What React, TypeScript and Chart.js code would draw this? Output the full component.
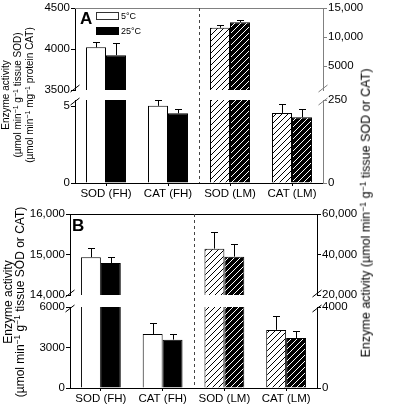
import React, { useEffect, useRef } from "react";
import { Chart, registerables } from "chart.js";

Chart.register(...registerables);

const FONT = "'Liberation Sans', Arial, Helvetica, sans-serif";
Chart.defaults.font.family = FONT;
Chart.defaults.font.size = 11.5;
Chart.defaults.color = "#000";

// ---------- data ----------
const categories = ["SOD (FH)", "CAT (FH)", "SOD (LM)", "CAT (LM)"];
const seriesLabels = ["5°C", "25°C"];

// Panel A (FH values on left axis, LM values on right axis)
const aMean5 = [4020, 5.02, 11600, 211];
const aErr5 = [70, 0.35, 450, 27];
const aMean25 = [3925, 4.53, 12540, 198];
const aErr25 = [146, 0.28, 410, 25];

// Panel B
const bMean5 = [14935, 4000, 42900, 2870];
const bErr5 = [220, 830, 8450, 680];
const bMean25 = [14790, 3580, 38950, 2470];
const bErr25 = [140, 450, 6360, 330];

// broken-axis ranges and tick values
const aLeftUpperRange = [3500, 4500];
const aLeftUpperTicks = [3500, 4000, 4500];
const aLeftLowerRange = [0, 5.4];
const aLeftLowerTicks = [0, 5];
const aRightUpperRange = [900, 15000];
const aRightUpperTicks = [5000, 10000, 15000];
const aRightLowerRange = [0, 250];
const aRightLowerTicks = [0, 250];

const bLeftUpperRange = [14000, 16000];
const bLeftUpperTicks = [14000, 15000, 16000];
const bLeftLowerRange = [0, 6000];
const bLeftLowerTicks = [0, 3000, 6000];
const bRightUpperRange = [20000, 60000];
const bRightUpperTicks = [20000, 40000, 60000];
const bRightLowerRange = [0, 4000];
const bRightLowerTicks = [0, 4000];

// ---------- helpers ----------
type Axis = { range: number[]; ticks: number[] };
type Seg = {
  mean5: number[]; err5: number[]; mean25: number[]; err25: number[];
  left: Axis; right: Axis;
  top: number; bottom: number; l: number; r: number;
  upper: boolean; frame: string; rightColor: string; dashTop?: number;
};

const LW = 40;
const RW = 50;
const XH = 17;

function fmt(v: number) {
  return v >= 10000 ? v.toLocaleString("en-US") : String(v);
}

function hatch(bg: string, fg: string) {
  const c = document.createElement("canvas");
  c.width = 6;
  c.height = 6;
  const g = c.getContext("2d")!;
  g.fillStyle = bg;
  g.fillRect(0, 0, 6, 6);
  g.strokeStyle = fg;
  g.lineWidth = 1;
  g.beginPath();
  g.moveTo(-1, 7); g.lineTo(7, -1);
  g.moveTo(-1, 1); g.lineTo(1, -1);
  g.moveTo(5, 7); g.lineTo(7, 5);
  g.stroke();
  return g.createPattern(c, "repeat")!;
}

function only(arr: number[], keep: number[]) {
  return arr.map((v, i) => (keep.includes(i) ? v : null));
}

function yAxis(ax: Axis, pos: "left" | "right", color: string, width: number) {
  return {
    type: "linear",
    position: pos,
    min: ax.range[0],
    max: ax.range[1],
    stacked: false,
    grid: { drawOnChartArea: false, drawTicks: true, tickLength: 4, color },
    border: { display: true, color, width: 1, z: 1 },
    ticks: { color: "#000", padding: 1, callback: (v: any) => fmt(Number(v)) },
    afterBuildTicks: (s: any) => { s.ticks = ax.ticks.map((value) => ({ value })); },
    afterFit: (s: any) => { s.width = width; },
  };
}

function makeConfig(s: Seg): any {
  const FH = [0, 1];
  const LM = [2, 3];
  const pw = hatch("#ffffff", "#000000");
  const pb = hatch("#000000", "#ffffff");
  const ds = (label: string, data: any[], errs: number[], axis: string, stack: string, bg: any) => ({
    label, data, errs, yAxisID: axis, stack, backgroundColor: bg,
    borderColor: "#000", borderWidth: 1, clip: 0,
  });
  const decor = {
    id: "decor",
    afterDatasetsDraw(chart: any) {
      const ctx = chart.ctx;
      const a = chart.chartArea;
      ctx.save();
      ctx.beginPath();
      ctx.rect(a.left, a.top, a.right - a.left, a.bottom - a.top);
      ctx.clip();
      ctx.strokeStyle = "#000";
      ctx.lineWidth = 1;
      chart.data.datasets.forEach((d: any, i: number) => {
        const meta = chart.getDatasetMeta(i);
        const ys = chart.scales[meta.yAxisID];
        meta.data.forEach((el: any, j: number) => {
          const v = d.data[j];
          if (v == null) return;
          const x = Math.round(el.x) + 0.5;
          const y0 = ys.getPixelForValue(v);
          const y1 = Math.round(ys.getPixelForValue(v + d.errs[j])) + 0.5;
          ctx.beginPath();
          ctx.moveTo(x, y0);
          ctx.lineTo(x, y1);
          ctx.moveTo(x - 3.5, y1);
          ctx.lineTo(x + 3.5, y1);
          ctx.stroke();
        });
      });
      ctx.restore();
    },
    afterDraw(chart: any) {
      const ctx = chart.ctx;
      const a = chart.chartArea;
      ctx.save();
      ctx.lineWidth = 1;
      if (s.upper) {
        ctx.strokeStyle = s.frame;
        ctx.beginPath();
        ctx.moveTo(a.left, Math.round(a.top) + 0.5);
        ctx.lineTo(a.right + 0.5, Math.round(a.top) + 0.5);
        ctx.stroke();
      }
      const yb = s.upper ? a.bottom - 1.5 : a.top + 1.5;
      const slash = (x: number, col: string) => {
        ctx.strokeStyle = col;
        ctx.beginPath();
        ctx.moveTo(x - 4.5, yb + 3.5);
        ctx.lineTo(x + 4.5, yb - 3.5);
        ctx.stroke();
      };
      slash(a.left, "#000");
      slash(a.right, s.rightColor);
      if (!s.upper && s.dashTop !== undefined) {
        const xs = chart.scales.x;
        const xd = Math.round((xs.getPixelForValue(1) + xs.getPixelForValue(2)) / 2) + 0.5;
        ctx.strokeStyle = "#444";
        ctx.setLineDash([3, 3]);
        ctx.beginPath();
        ctx.moveTo(xd, s.dashTop);
        ctx.lineTo(xd, a.bottom);
        ctx.stroke();
      }
      ctx.restore();
    },
  };
  return {
    type: "bar",
    data: {
      labels: categories,
      datasets: [
        ds(seriesLabels[0], only(s.mean5, FH), s.err5, "yL", "c5", "#ffffff"),
        ds(seriesLabels[1], only(s.mean25, FH), s.err25, "yL", "c25", "#000000"),
        ds(seriesLabels[0], only(s.mean5, LM), s.err5, "yR", "c5", pw),
        ds(seriesLabels[1], only(s.mean25, LM), s.err25, "yR", "c25", pb),
      ],
    },
    options: {
      responsive: false,
      animation: false,
      events: [],
      layout: {
        padding: {
          left: s.l - LW,
          right: 420 - s.r - RW,
          top: s.top,
          bottom: Math.max(0, 405 - s.bottom - (s.upper ? 0 : XH)),
        },
      },
      datasets: { bar: { categoryPercentage: 0.645, barPercentage: 1 } },
      plugins: { legend: { display: false }, tooltip: { enabled: false } },
      scales: {
        x: {
          type: "category",
          display: !s.upper,
          offset: true,
          grid: { offset: false, drawOnChartArea: false, drawTicks: true, tickLength: 3, color: "#000" },
          border: { display: true, color: "#000", width: 1, z: 1 },
          ticks: { color: "#000", padding: 1, maxRotation: 0, autoSkip: false },
          afterFit: (sc: any) => { if (!s.upper) sc.height = Math.min(XH, 405 - s.bottom); },
        },
        yL: yAxis(s.left, "left", "#000", LW),
        yR: yAxis(s.right, "right", s.rightColor, RW),
      },
    },
    plugins: [decor],
  };
}

const segA = { mean5: aMean5, err5: aErr5, mean25: aMean25, err25: aErr25, l: 75, r: 323, frame: "#808080", rightColor: "#808080" };
const segB = { mean5: bMean5, err5: bErr5, mean25: bMean25, err25: bErr25, l: 70, r: 317, frame: "#000", rightColor: "#000" };

const segments: Seg[] = [
  { ...segA, left: { range: aLeftUpperRange, ticks: aLeftUpperTicks }, right: { range: aRightUpperRange, ticks: aRightUpperTicks }, top: 8, bottom: 90, upper: true },
  { ...segA, left: { range: aLeftLowerRange, ticks: aLeftLowerTicks }, right: { range: aRightLowerRange, ticks: aRightLowerTicks }, top: 100, bottom: 183, upper: false, dashTop: 8 },
  { ...segB, left: { range: bLeftUpperRange, ticks: bLeftUpperTicks }, right: { range: bRightUpperRange, ticks: bRightUpperTicks }, top: 214, bottom: 295, upper: true },
  { ...segB, left: { range: bLeftLowerRange, ticks: bLeftLowerTicks }, right: { range: bRightLowerRange, ticks: bRightLowerTicks }, top: 307, bottom: 388, upper: false, dashTop: 214 },
];

function Segment({ spec }: { spec: Seg }) {
  const ref = useRef<HTMLCanvasElement>(null);
  useEffect(() => {
    const chart = new Chart(ref.current!, makeConfig(spec));
    return () => chart.destroy();
  }, [spec]);
  return (
    <canvas
      ref={ref}
      width={420}
      height={405}
      style={{ position: "absolute", left: 0, top: 0, width: 420, height: 405 }}
    />
  );
}

const Sup = () => (
  <span style={{ fontSize: "0.7em", position: "relative", top: "-0.45em" }}>−1</span>
);

function Rot({ x, y, size, children }: { x: number; y: number; size: number; children: any }) {
  return (
    <div
      style={{
        position: "absolute",
        left: x,
        top: y,
        transform: "translate(-50%, -50%) rotate(-90deg)",
        whiteSpace: "nowrap",
        fontSize: size,
        lineHeight: 1,
        fontFamily: FONT,
        color: "#000",
      }}
    >
      {children}
    </div>
  );
}

const abs = (l: number, t: number, extra: any = {}) => ({ position: "absolute" as const, left: l, top: t, ...extra });

export default function App() {
  return (
    <div style={{ position: "fixed", left: 0, top: 0, width: 420, height: 405, background: "#fff", overflow: "hidden" }}>
      {segments.map((s, i) => (
        <Segment key={i} spec={s} />
      ))}
      {/* panel letters */}
      <div style={abs(80, 10, { fontFamily: FONT, fontWeight: "bold", fontSize: 17, lineHeight: 1 })}>A</div>
      <div style={abs(72, 217, { fontFamily: FONT, fontWeight: "bold", fontSize: 17, lineHeight: 1 })}>B</div>
      {/* legend */}
      <div style={abs(96, 12, { width: 23, height: 8, boxSizing: "border-box", border: "1px solid #333", background: "#fff" })} />
      <div style={abs(96, 27, { width: 23, height: 8, background: "#000" })} />
      <div style={abs(121, 11.5, { fontFamily: FONT, fontSize: 9, lineHeight: 1 })}>{seriesLabels[0]}</div>
      <div style={abs(121, 26.5, { fontFamily: FONT, fontSize: 9, lineHeight: 1 })}>{seriesLabels[1]}</div>
      {/* panel A left title */}
      <Rot x={6} y={95} size={10}>Enzyme activity</Rot>
      <Rot x={18} y={95} size={10}>(µmol min<Sup /> g<Sup /> tissue SOD)</Rot>
      <Rot x={30} y={95} size={10}>(µmol min<Sup /> mg<Sup /> protein CAT)</Rot>
      {/* panel B left title */}
      <Rot x={7.5} y={302} size={12}>Enzyme activity</Rot>
      <Rot x={20} y={302} size={12}>(µmol min<Sup /> g<Sup /> tissue SOD or CAT)</Rot>
      {/* right title */}
      <Rot x={366} y={213} size={12.5}>Enzyme activity (µmol min<Sup /> g<Sup /> tissue SOD or CAT)</Rot>
    </div>
  );
}
